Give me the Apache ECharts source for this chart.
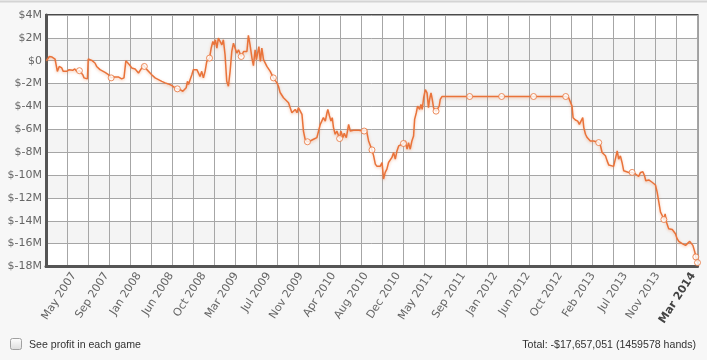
<!DOCTYPE html>
<html><head><meta charset="utf-8">
<script src="https://cdn.jsdelivr.net/npm/echarts@6/dist/echarts.min.js"></script>
<style>html,body{margin:0;padding:0;background:#f7f7f7}#c{width:707px;height:360px}</style>
</head><body><div id="c"></div>
<script>
// x: position along the time axis (one unit = one vertical grid cell), y: cumulative profit in $M
const xs = [
0.02,0.16,0.29,0.43,0.54,0.63,0.75,0.82,0.90,0.99,
1.10,1.18,1.27,1.37,1.46,1.59,1.65,1.75,1.81,1.90,
1.97,2.01,2.10,2.18,2.25,2.33,2.41,2.49,2.57,2.65,
2.81,2.89,2.97,3.10,3.20,3.29,3.44,3.52,3.60,3.71,
3.80,3.87,3.97,4.08,4.16,4.24,4.32,4.40,4.48,4.56,
4.63,4.68,4.80,4.87,5.03,5.19,5.35,5.51,5.67,5.82,
5.99,6.14,6.25,6.38,6.51,6.59,6.67,6.73,6.78,6.86,
6.94,7.01,7.10,7.18,7.25,7.33,7.41,7.49,7.57,7.65,
7.78,
7.86,7.94,8.00,8.06,8.13,8.20,8.29,8.37,8.44,8.52,
8.60,8.68,8.76,8.84,8.92,9.00,9.08,9.16,9.29,9.40,
9.48,9.56,9.63,9.71,9.80,9.87,9.95,10.01,10.07,10.13,
10.20,10.27,10.35,10.43,10.51,10.67,10.82,10.90,10.99,11.06,
11.14,11.22,11.30,11.38,11.54,11.62,11.70,11.78,11.86,11.94,
12.01,12.10,12.18,12.25,12.33,12.44,12.57,12.73,12.89,12.97,
13.05,13.13,13.20,13.29,13.37,13.41,13.49,13.56,13.62,13.68,
13.76,13.84,13.97,14.03,14.13,14.19,14.29,14.40,14.48,14.63,
14.87,15.14,15.24,15.35,15.51,15.59,15.67,15.75,15.82,15.90,
15.99,16.06,16.14,16.22,16.30,16.38,16.46,16.54,16.62,16.70,
16.78,16.86,17.01,17.10,17.18,17.25,17.33,17.41,17.49,17.54,
17.62,17.68,17.78,17.84,17.90,17.97,18.05,18.13,18.20,18.25,
18.32,18.38,18.44,18.56,18.63,18.71,18.76,18.84,20.16,21.68,
23.20,24.73,24.87,25.03,25.08,25.19,25.30,25.38,25.46,25.54,
25.59,25.67,25.75,25.82,25.90,26.06,26.30,26.38,26.46,26.54,
26.62,26.70,26.78,26.86,27.01,27.10,27.18,27.25,27.33,27.41,
27.49,27.57,27.73,27.89,28.05,28.20,28.29,28.40,28.48,28.54,
28.60,28.68,28.76,28.84,28.92,29.00,29.08,29.16,29.24,29.32,
29.40,29.46,29.52,29.63,29.80,29.87,29.95,30.03,30.11,30.27,
30.43,30.51,30.63,30.70,30.78,30.82,30.87,30.92,31.00
];
const ys = [
0,0.37,0.32,0.15,-0.93,-0.50,-0.63,-0.93,-1.07,-0.93,
-0.78,-0.63,-0.84,-0.72,-0.93,-0.87,-0.78,-1.22,-1.50,-1.37,
-1.59,0.15,0.23,0.03,0.15,-0.20,-0.50,-0.63,-0.78,-0.93,
-1.02,-1.13,-1.22,-1.50,-1.42,-1.37,-1.42,-1.50,-1.59,-1.50,
0.00,-0.15,-0.35,-0.63,-0.63,-0.72,-0.84,-1.07,-0.93,-0.63,
-0.35,-0.50,-0.78,-0.93,-1.22,-1.50,-1.65,-1.80,-1.94,-2.03,
-2.17,-2.37,-2.46,-2.52,-2.67,-2.81,-2.37,-1.80,-2.09,-1.65,
-1.22,-0.78,-0.63,-0.78,-0.93,-1.37,-0.93,-1.50,-0.93,-0.06,
0.23,
1.10,1.68,1.39,1.83,1.10,1.97,1.83,1.39,1.83,0.52,
-1.80,-2.23,-0.93,0.81,1.54,1.10,0.67,0.96,0.37,0.81,
0.96,0.81,2.22,1.39,0.23,-0.43,0.96,0.09,-0.06,1.24,
-0.06,1.10,0.09,-0.06,-0.50,-0.93,-1.50,-1.65,-1.94,-2.23,
-2.78,-2.87,-3.24,-3.39,-3.68,-3.83,-4.55,-4.70,-4.26,-4.55,
-4.11,-3.97,-4.70,-6.15,-6.87,-7.09,-7.02,-6.87,-6.72,-6.15,
-5.57,-5.57,-4.98,-5.28,-4.55,-4.26,-4.84,-5.28,-4.98,-5.85,
-6.43,-6.15,-6.81,-6.15,-6.72,-6.35,-6.72,-5.57,-6.15,-6.09,
-6.09,-6.15,-6.00,-7.02,-7.80,-8.32,-9.04,-9.24,-9.13,-9.24,
-8.90,-10.35,-9.77,-9.48,-8.90,-9.04,-8.46,-8.03,-8.61,-7.89,
-7.45,-7.30,-7.24,-7.02,-7.74,-7.16,-7.74,-7.02,-6.58,-5.13,
-4.55,-3.97,-4.26,-3.83,-4.26,-3.24,-2.52,-2.81,-4.11,-3.39,
-2.81,-3.39,-4.11,-4.41,-4.55,-3.97,-3.39,-3.13,-3.13,-3.13,
-3.13,-3.13,-3.24,-3.97,-4.98,-5.19,-5.28,-5.57,-5.71,-4.98,
-5.85,-6.43,-6.72,-6.72,-7.02,-7.02,-7.16,-7.39,-8.03,-8.17,
-8.32,-8.76,-9.13,-9.04,-9.24,-9.33,-7.89,-8.61,-8.32,-8.90,
-9.63,-9.77,-9.77,-9.77,-9.91,-10.11,-9.77,-9.71,-10.06,-10.50,
-10.63,-10.43,-10.58,-10.63,-10.78,-10.87,-11.50,-12.37,-13.24,-13.54,
-13.89,-13.39,-14.11,-14.70,-14.76,-14.70,-15.13,-15.57,-15.80,-16.00,
-16.15,-16.29,-15.80,-15.85,-16.15,-16.00,-16.72,-17.16,-17.66
];
const markerIdx = [15,33,51,62,80,99,117,136,153,162,165,183,204,209,210,211,212,227,244,261,278,279];
const tickPos = [1.33,2.88,4.42,5.96,7.50,9.05,10.59,12.13,13.68,15.22,16.76,18.30,19.85,21.39,22.93,24.47,26.02,27.56,29.10,30.80];
const tickLabels = ["May 2007","Sep 2007","Jan 2008","Jun 2008","Oct 2008","Mar 2009","Jul 2009","Nov 2009","Apr 2010","Aug 2010","Dec 2010","May 2011","Sep 2011","Jan 2012","Jun 2012","Oct 2012","Feb 2013","Jul 2013","Nov 2013","Mar 2014"];
const boldLabel = "Mar 2014";
const totalText = "Total: -$17,657,051 (1459578 hands)";
const checkboxText = "See profit in each game";

const lineColor = '#e9733a';
const lineData = xs.map((x, i) => [x, ys[i]]);
const markerData = markerIdx.map(i => [xs[i], ys[i]]);

const chart = echarts.init(document.getElementById('c'), null, {renderer: 'canvas'});
chart.setOption({
  animation: false,
  backgroundColor: '#f7f7f7',
  grid: {left: 46, right: 9.5, top: 15, bottom: 93.5, show: true, borderColor: '#4a4a4a', borderWidth: 2, backgroundColor: '#ffffff'},
  xAxis: {
    type: 'value', min: 0, max: 31, interval: 1,
    axisLine: {show: true, onZero: false, lineStyle: {color: '#555', width: 3}},
    axisTick: {show: false},
    splitLine: {show: true, lineStyle: {color: '#a6a6a6', width: 1}},
    axisLabel: {
      customValues: tickPos,
      rotate: 57, margin: 7, color: '#666', fontSize: 11, fontFamily: 'DejaVu Sans',
      formatter: function (v) {
        let k = 0, best = 1e9;
        tickPos.forEach((p, i) => { const d = Math.abs(p - v); if (d < best) { best = d; k = i; } });
        const t = tickLabels[k];
        return t === boldLabel ? '{b|' + t + '}' : t;
      },
      rich: {b: {fontWeight: 'bold', color: '#444', fontSize: 11, fontFamily: 'DejaVu Sans'}}
    }
  },
  yAxis: {
    type: 'value', min: -18, max: 4, interval: 2,
    axisLine: {show: true, lineStyle: {color: '#555', width: 3}},
    axisTick: {show: false},
    splitLine: {show: true, lineStyle: {color: '#a6a6a6', width: 1}},
    splitArea: {show: true, areaStyle: {color: ['#ffffff', '#f4f4f4']}},
    axisLabel: {
      color: '#666', fontSize: 11, fontFamily: 'DejaVu Sans', margin: 4,
      formatter: v => v === 0 ? '$0' : '$' + v + 'M'
    }
  },
  series: [
    {
      type: 'line', data: lineData, showSymbol: false, symbol: 'none', z: 3,
      lineStyle: {color: lineColor, width: 1.5, shadowColor: 'rgba(235,120,60,0.45)', shadowBlur: 3, shadowOffsetY: 1}
    },
    {
      type: 'scatter', data: markerData, symbol: 'circle', symbolSize: 6, z: 4,
      itemStyle: {color: '#ffffff', borderColor: lineColor, borderWidth: 1}
    }
  ],
  graphic: [
    {type: 'line', shape: {x1: 0, y1: 1.5, x2: 707, y2: 1.5}, style: {stroke: '#d4d4d4', lineWidth: 2}},
    {type: 'rect', shape: {x: 10.5, y: 338.5, width: 11, height: 11, r: 2},
      style: {fill: new echarts.graphic.LinearGradient(0, 0, 0, 1, [{offset: 0, color: '#ffffff'}, {offset: 1, color: '#dcdcdc'}]), stroke: '#a0a0a0', lineWidth: 1}},
    {type: 'text', x: 29, y: 345, style: {text: checkboxText, fill: '#333', font: '10.6px "Liberation Sans"', textVerticalAlign: 'middle', verticalAlign: 'middle'}},
    {type: 'text', x: 696, y: 345, style: {text: totalText, fill: '#333', font: '10.6px "Liberation Sans"', align: 'right', textAlign: 'right', verticalAlign: 'middle', textVerticalAlign: 'middle'}}
  ]
});
</script>
</body></html>
